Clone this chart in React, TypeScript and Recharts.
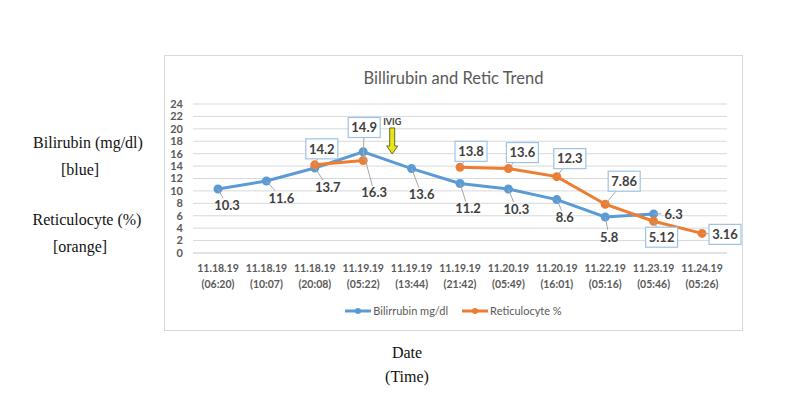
import {
  LineChart, Line, XAxis, YAxis, CartesianGrid, Legend, LabelList, ReferenceDot
} from "recharts";

const dates = [
  "11.18.19 (06:20)", "11.18.19 (10:07)", "11.18.19 (20:08)", "11.19.19 (05:22)",
  "11.19.19 (13:44)", "11.19.19 (21:42)", "11.20.19 (05:49)", "11.20.19 (16:01)",
  "11.22.19 (05:16)", "11.23.19 (05:46)", "11.24.19 (05:26)",
];
const bilirubin = [10.3, 11.6, 13.7, 16.3, 13.6, 11.2, 10.3, 8.6, 5.8, 6.3, null];
const retic = [null, null, 14.2, 14.9, null, 13.8, 13.6, 12.3, 7.86, 5.12, 3.16];
const yTicks = [0, 2, 4, 6, 8, 10, 12, 14, 16, 18, 20, 22, 24];

const data = dates.map((date, i) => ({ date, bili: bilirubin[i], retic: retic[i] }));

// where each data label sits, in px from its point (Excel moved them by hand)
const biliLabelOffset = [[9, 16], [15, 17], [13, 19], [11, 41], [10, 26], [8, 25], [8, 20], [8, 18], [4, 20], [20, 0], [0, 0]];
const reticLabelOffset = [[0, 0], [0, 0], [7, -16], [1, -33], [0, 0], [11, -16], [14, -16], [13, -18], [19, -23], [8, 16], [23, 1]];

const BLUE = "#5b9bd5";
const ORANGE = "#ed7d31";
const FONT = "Lato, 'Open Sans', sans-serif";

function makeLabel(offsets: number[][], boxed: boolean) {
  return (props: any) => {
    const { x, y, value, index } = props;
    if (value == null || x == null || y == null) return null;
    const [dx, dy] = offsets[index];
    const cx = x + dx;
    const cy = y + dy;
    const w = boxed ? 32 : 24;
    const h = boxed ? 20 : 14;
    const ux = x - cx;
    const uy = y - cy;
    const s = Math.min(ux ? w / 2 / Math.abs(ux) : Infinity, uy ? h / 2 / Math.abs(uy) : Infinity);
    const len = (1 - s) * Math.hypot(ux, uy);
    return (
      <g key={`lbl-${boxed}-${index}`}>
        {len > 5 && (
          <line x1={x} y1={y} x2={cx + ux * s} y2={cy + uy * s} stroke="#a6a6a6" strokeWidth={1} />
        )}
        {boxed && (
          <rect x={cx - w / 2} y={cy - h / 2} width={w} height={h} fill="#fff" stroke="#9dc3e6" strokeWidth={1.2} />
        )}
        <text x={cx} y={cy} dy="0.36em" textAnchor="middle" fontSize={13} fontWeight="bold"
          fill="#404040" fontFamily={FONT}>
          {value}
        </text>
      </g>
    );
  };
}

const DateTick = (props: any) => {
  const { x, y, payload } = props;
  const [d, t] = String(payload.value).split(" ");
  return (
    <g transform={`translate(${x},${y})`}>
      <text textAnchor="middle" fill="#595959" fontSize={10.5} fontWeight="bold" fontFamily={FONT}>
        <tspan x={0} dy={19}>{d}</tspan>
        <tspan x={0} dy={16}>{t}</tspan>
      </text>
    </g>
  );
};

const IvigArrow = (props: any) => {
  const { cx, cy } = props;
  const x = cx + 29;
  return (
    <g>
      <text x={x} y={cy - 2} textAnchor="middle" fontSize={9} fontWeight={700} fill="#404040" fontFamily={FONT}>IVIG</text>
      <path
        d={`M${x - 2.5},${cy + 1} h5 v18 h3 l-5.5,8 l-5.5,-8 h3 z`}
        fill="#e6e619" stroke="#6b6b20" strokeWidth={1}
      />
    </g>
  );
};

const renderLegend = () => (
  <div style={{ display: "flex", justifyContent: "center", gap: 14, fontFamily: FONT, fontSize: 11, color: "#595959", lineHeight: "14px" }}>
    {[
      { label: "Bilirrubin mg/dl", color: BLUE },
      { label: "Reticulocyte %", color: ORANGE },
    ].map(({ label, color }) => (
      <span key={label} style={{ display: "flex", alignItems: "center" }}>
        <svg width={26} height={10} style={{ marginRight: 2 }}>
          <line x1={0} y1={5} x2={26} y2={5} stroke={color} strokeWidth={3} />
          <circle cx={13} cy={5} r={3} fill={color} />
        </svg>
        {label}
      </span>
    ))}
  </div>
);

const sideText: React.CSSProperties = {
  position: "absolute",
  transform: "translate(-50%, -50%)",
  fontFamily: "'Liberation Serif', 'Times New Roman', serif",
  fontSize: 16,
  color: "#111",
  whiteSpace: "nowrap",
};

export default function App() {
  return (
    <div style={{ position: "absolute", left: 0, top: 0, width: 800, height: 418, background: "#fff" }}>
      <div style={{ ...sideText, left: 88, top: 143 }}>Bilirubin (mg/dl)</div>
      <div style={{ ...sideText, left: 80, top: 170 }}>[blue]</div>
      <div style={{ ...sideText, left: 87, top: 220 }}>Reticulocyte (%)</div>
      <div style={{ ...sideText, left: 80, top: 247 }}>[orange]</div>
      <div style={{ ...sideText, left: 407, top: 353 }}>Date</div>
      <div style={{ ...sideText, left: 407, top: 377 }}>(Time)</div>

      <div style={{ position: "absolute", left: 164, top: 55, width: 577, height: 274, border: "1px solid #d9d9d9" }}>
        <div style={{ position: "absolute", left: 0, top: 12, width: 577, textAlign: "center", fontFamily: FONT, fontSize: 16.5, color: "#595959" }}>
          Billirubin and Retic Trend
        </div>
        <LineChart width={577} height={274} data={data} margin={{ top: 48, right: 15, left: 0, bottom: 37 }}>
          <CartesianGrid vertical={false} stroke="#d9d9d9" />
          <XAxis dataKey="date" tick={<DateTick />} tickLine={false} tickSize={0} tickMargin={0}
            axisLine={{ stroke: "#d9d9d9" }} padding={{ left: 25, right: 25 }} height={40} interval={0} />
          <YAxis domain={[0, 24]} ticks={yTicks} width={28} axisLine={false} tickLine={false}
            tickSize={0} tickMargin={10} interval={0}
            tick={{ fontSize: 11, fontWeight: "bold", fill: "#595959", fontFamily: FONT }} />
          <Legend verticalAlign="middle" align="center" content={renderLegend}
            wrapperStyle={{ top: 248, left: 0, width: 577 }} />
          <Line type="linear" dataKey="bili" name="Bilirrubin mg/dl" stroke={BLUE} strokeWidth={3}
            dot={{ r: 3, fill: BLUE, stroke: BLUE }} isAnimationActive={false}>
            <LabelList dataKey="bili" content={makeLabel(biliLabelOffset, false)} />
          </Line>
          <Line type="linear" dataKey="retic" name="Reticulocyte %" stroke={ORANGE} strokeWidth={3}
            dot={{ r: 3, fill: ORANGE, stroke: ORANGE }} isAnimationActive={false}>
            <LabelList dataKey="retic" content={makeLabel(reticLabelOffset, true)} />
          </Line>
          <ReferenceDot x="11.19.19 (05:22)" y={20.3} shape={<IvigArrow />} />
        </LineChart>
      </div>
    </div>
  );
}
